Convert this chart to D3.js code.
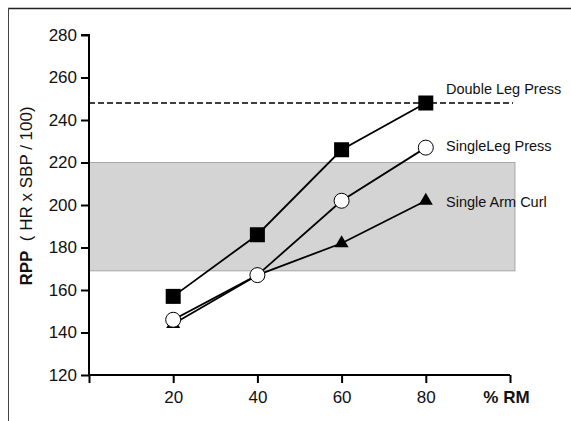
<!DOCTYPE html>
<html><head><meta charset="utf-8">
<script src="https://cdn.jsdelivr.net/npm/d3@7"></script>
<style>body{margin:0;background:#fff}svg{display:block}text{font-family:"Liberation Sans",Arial,sans-serif}</style>
</head><body>
<script>
const rmLevels = [20, 40, 60, 80];
const doubleLeg = [157, 186, 226, 248];
const singleLeg = [146, 167, 202, 227];
const singleArm = [144, 167, 182, 202];
const seriesNames = ["Double Leg Press", "SingleLeg Press", "Single Arm Curl"];
const yTicks = [120, 140, 160, 180, 200, 220, 240, 260, 280];
const xTicks = [0, 20, 40, 60, 80, 100];
const xTickLabels = ["", "20", "40", "60", "80", "% RM"];
const referenceLine = 248;
const bandRange = [169, 220];

const W = 571, H = 421;
const svg = d3.select("body").append("svg").attr("width", W).attr("height", H);

// frame
svg.append("line").attr("x1", 8).attr("x2", W).attr("y1", 8.5).attr("y2", 8.5).attr("stroke", "#222").attr("stroke-width", 1.5);
svg.append("line").attr("x1", 8.5).attr("x2", 8.5).attr("y1", 8).attr("y2", H).attr("stroke", "#444").attr("stroke-width", 1);

const x = d3.scaleLinear().domain([0, 100]).range([89, 510]);
const y = d3.scaleLinear().domain([120, 280]).range([375, 35]);

// band
svg.append("rect").attr("x", x(0)).attr("width", 515 - x(0))
  .attr("y", y(bandRange[1])).attr("height", y(bandRange[0]) - y(bandRange[1]))
  .attr("fill", "#d4d4d4").attr("stroke", "#999").attr("stroke-width", 0.8);

// dashed reference line
svg.append("line").attr("x1", x(0)).attr("x2", 513).attr("y1", y(referenceLine)).attr("y2", y(referenceLine))
  .attr("stroke", "#000").attr("stroke-width", 1.6).attr("stroke-dasharray", "6,3");

// axes
const yAxis = d3.axisLeft(y).tickValues(yTicks).tickSize(8).tickPadding(4);
const gy = svg.append("g").attr("transform", `translate(${x(0)},0)`).call(yAxis);
gy.select(".domain").attr("stroke-width", 2).attr("d", `M-8,${y(280)}H0V${y(120)}`);
gy.selectAll(".tick line").attr("stroke-width", 2);
gy.selectAll("text").attr("font-size", 17).attr("fill", "#111").attr("font-family", "Liberation Sans, Arial, sans-serif");

const xAxis = d3.axisBottom(x).tickValues(xTicks).tickSize(8).tickPadding(8).tickFormat((d, i) => xTickLabels[i]);
const gx = svg.append("g").attr("transform", `translate(0,${y(120)})`).call(xAxis);
gx.select(".domain").attr("stroke-width", 2).attr("d", `M${x(0)},0H${x(100)}`);
gx.selectAll(".tick line").attr("stroke-width", 2);
gx.selectAll("text").attr("font-size", 17).attr("fill", "#111").attr("font-family", "Liberation Sans, Arial, sans-serif");
gx.selectAll("text").filter((d) => d === 100).attr("font-weight", "bold").attr("dx", -4);

// y label
const yl = svg.append("text").attr("transform", `translate(32,196) rotate(-90)`).attr("text-anchor", "middle")
  .attr("font-size", 17).attr("fill", "#111").attr("xml:space", "preserve");
yl.append("tspan").attr("font-weight", "bold").text("RPP");
yl.append("tspan").text("  ( HR x SBP / 100)");

const line = d3.line().x((d, i) => x(rmLevels[i])).y(d => y(d));
[singleArm, singleLeg, doubleLeg].forEach(s => {
  svg.append("path").attr("d", line(s)).attr("fill", "none").attr("stroke", "#000").attr("stroke-width", 1.8);
});

// markers
const tri = d3.symbol().type(d3.symbolTriangle).size(85);
svg.append("g").selectAll("path").data(singleArm).join("path")
  .attr("d", tri).attr("transform", (d, i) => `translate(${x(rmLevels[i])},${y(d)})`).attr("fill", "#000");
svg.append("g").selectAll("circle").data(singleLeg).join("circle")
  .attr("cx", (d, i) => x(rmLevels[i])).attr("cy", d => y(d)).attr("r", 7.5)
  .attr("fill", "#fff").attr("stroke", "#000").attr("stroke-width", 1);
svg.append("g").selectAll("rect").data(doubleLeg).join("rect")
  .attr("x", (d, i) => x(rmLevels[i]) - 7.5).attr("y", d => y(d) - 7.5).attr("width", 15).attr("height", 15)
  .attr("fill", "#000");

// series labels
const labelY = [89, 146, 202];
seriesNames.forEach((n, i) => {
  svg.append("text").attr("x", 446).attr("y", labelY[i]).attr("dy", "0.35em").attr("font-size", 14.5).attr("fill", "#111").text(n);
});
</script>
</body></html>
